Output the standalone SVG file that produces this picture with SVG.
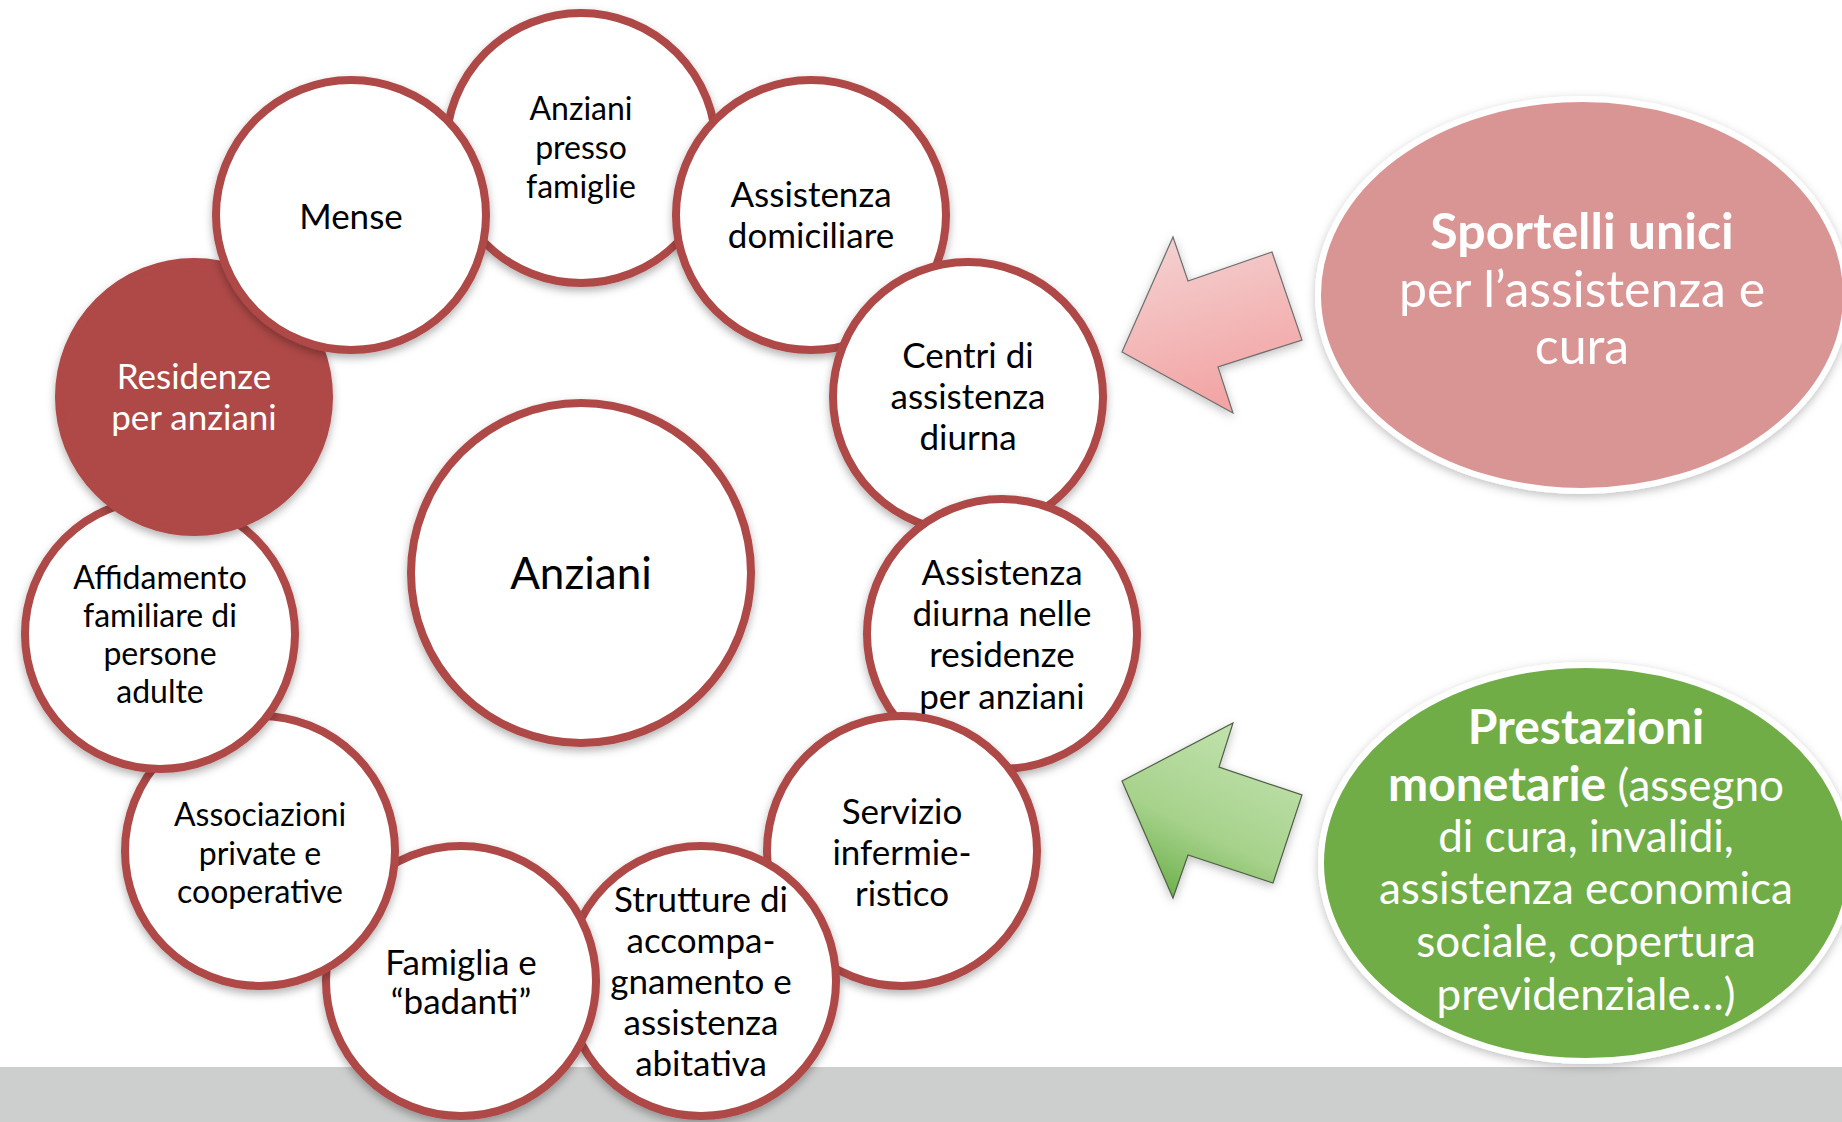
<svg xmlns="http://www.w3.org/2000/svg" width="1842" height="1122" viewBox="0 0 1842 1122">
<style>
.ring{fill:#ffffff;stroke:#AE4846;stroke-width:8}
.dark{fill:#AE4846;stroke:#AE4846;stroke-width:8}
.t{font-family:Lato,"Liberation Sans",sans-serif;font-size:35px;fill:#000;text-anchor:middle}
.ts{font-size:32px}
.w{fill:#fff}
.big{font-family:Lato,"Liberation Sans",sans-serif;fill:#fff;text-anchor:middle}
</style>
<defs>
<filter id="sh" x="-20%" y="-20%" width="140%" height="140%">
<feDropShadow dx="0" dy="4" stdDeviation="4" flood-color="#000" flood-opacity="0.3"/>
</filter>
<filter id="sh2" x="-20%" y="-20%" width="140%" height="140%">
<feDropShadow dx="0" dy="3" stdDeviation="5" flood-color="#000" flood-opacity="0.25"/>
</filter>
<linearGradient id="gp" x1="0" y1="0" x2="0.3" y2="1">
<stop offset="0" stop-color="#F4D4D4"/>
<stop offset="1" stop-color="#F3A5A5"/>
</linearGradient>
<linearGradient id="gg" x1="0.7" y1="0" x2="0.2" y2="1">
<stop offset="0" stop-color="#C3E2B0"/>
<stop offset="0.6" stop-color="#A6D28B"/>
<stop offset="1" stop-color="#6AAE47"/>
</linearGradient>
</defs>
<rect x="0" y="0" width="1842" height="1122" fill="#ffffff"/>
<rect id="band" x="0" y="1067" width="1842" height="55" fill="#CDCFCE"/>

<g id="n-center">
<circle class="ring" cx="581" cy="573" r="170" filter="url(#sh)"/>
<text class="t" x="581" y="589" style="font-size:44px">Anziani</text>
</g>
<g id="n-presso">
<circle class="ring" cx="581" cy="148" r="135" filter="url(#sh)"/>
<text class="t ts" x="581" y="120">Anziani</text>
<text class="t ts" x="581" y="159">presso</text>
<text class="t ts" x="581" y="198">famiglie</text>
</g>
<g id="n-domiciliare">
<circle class="ring" cx="811" cy="215" r="135" filter="url(#sh)"/>
<text class="t" x="811" y="207">Assistenza</text>
<text class="t" x="811" y="248">domiciliare</text>
</g>
<g id="n-centri">
<circle class="ring" cx="968" cy="397" r="135" filter="url(#sh)"/>
<text class="t" x="968" y="368">Centri di</text>
<text class="t" x="968" y="409">assistenza</text>
<text class="t" x="968" y="450">diurna</text>
</g>
<g id="n-diurna">
<circle class="ring" cx="1002" cy="634" r="135" filter="url(#sh)"/>
<text class="t" x="1002" y="585">Assistenza</text>
<text class="t" x="1002" y="626">diurna nelle</text>
<text class="t" x="1002" y="667">residenze</text>
<text class="t" x="1002" y="709">per anziani</text>
</g>
<g id="n-servizio">
<circle class="ring" cx="902" cy="851" r="135" filter="url(#sh)"/>
<text class="t" x="902" y="824">Servizio</text>
<text class="t" x="902" y="865">infermie-</text>
<text class="t" x="902" y="906">ristico</text>
</g>
<g id="n-strutture">
<circle class="ring" cx="701" cy="981" r="135" filter="url(#sh)"/>
<text class="t" x="701" y="912">Strutture di</text>
<text class="t" x="701" y="953">accompa-</text>
<text class="t" x="701" y="994">gnamento e</text>
<text class="t" x="701" y="1035">assistenza</text>
<text class="t" x="701" y="1076">abitativa</text>
</g>
<g id="n-famiglia">
<circle class="ring" cx="461" cy="981" r="135" filter="url(#sh)"/>
<text class="t" x="461" y="975">Famiglia e</text>
<text class="t" x="461" y="1014">“badanti”</text>
</g>
<g id="n-associazioni">
<circle class="ring" cx="260" cy="851" r="135" filter="url(#sh)"/>
<text class="t ts" x="260" y="826">Associazioni</text>
<text class="t ts" x="260" y="865">private e</text>
<text class="t ts" x="260" y="903">cooperative</text>
</g>
<g id="n-affidamento">
<circle class="ring" cx="160" cy="634" r="135" filter="url(#sh)"/>
<text class="t ts" x="160" y="589">Affidamento</text>
<text class="t ts" x="160" y="627">familiare di</text>
<text class="t ts" x="160" y="665">persone</text>
<text class="t ts" x="160" y="703">adulte</text>
</g>
<g id="n-residenze">
<circle class="dark" cx="194" cy="397" r="135" filter="url(#sh)"/>
<text class="t w" x="194" y="389">Residenze</text>
<text class="t w" x="194" y="430">per anziani</text>
</g>
<g id="n-mense">
<circle class="ring" cx="351" cy="215" r="135" filter="url(#sh)"/>
<text class="t" x="351" y="229">Mense</text>
</g>

<g id="n-sportelli">
<ellipse cx="1582" cy="295" rx="264" ry="196" fill="#D99594" stroke="#ffffff" stroke-width="6" filter="url(#sh2)"/>
<text class="big" x="1582" y="249" style="font-size:50px;font-weight:bold">Sportelli unici</text>
<text class="big" x="1582" y="307" style="font-size:50px">per l’assistenza e</text>
<text class="big" x="1582" y="364" style="font-size:50px">cura</text>
</g>
<g id="n-prestazioni">
<ellipse cx="1586" cy="863" rx="265" ry="198" fill="#70AD47" stroke="#ffffff" stroke-width="6" filter="url(#sh2)"/>
<text class="big" x="1586" y="744" style="font-size:48px;font-weight:bold">Prestazioni</text>
<text class="big" x="1586" y="801" style="font-size:44px"><tspan style="font-size:48px;font-weight:bold">monetarie</tspan> (assegno</text>
<text class="big" x="1586" y="852" style="font-size:44px">di cura, invalidi,</text>
<text class="big" x="1586" y="904" style="font-size:44px">assistenza economica</text>
<text class="big" x="1586" y="957" style="font-size:44px">sociale, copertura</text>
<text class="big" x="1586" y="1010" style="font-size:44px">previdenziale…)</text>
</g>

<g id="connectors">
<polygon points="1122,352 1173,237 1188,281 1272,252 1302,340 1218,367 1233,413" fill="url(#gp)" stroke="#6E6E6E" stroke-width="1.2" filter="url(#sh2)"/>
<polygon points="1122,781 1233,723 1219,767 1302,795 1273,883 1188,855 1173,898" fill="url(#gg)" stroke="#4F5F45" stroke-width="1.2" filter="url(#sh2)"/>
</g>
</svg>
